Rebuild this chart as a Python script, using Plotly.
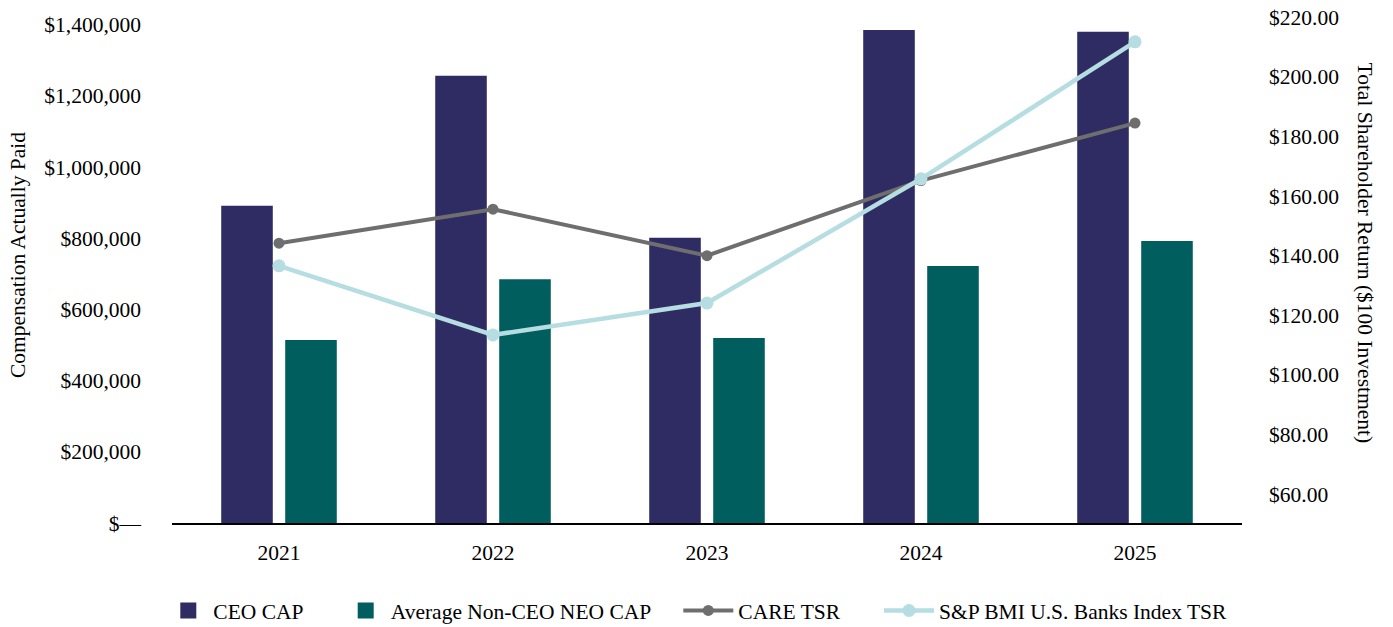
import plotly.graph_objects as go

years = ["2021", "2022", "2023", "2024", "2025"]
ceo_cap = [891000, 1256000, 801000, 1385000, 1380000]
neo_cap = [514000, 685000, 520000, 722000, 792000]
care_tsr = [144.2, 155.6, 140.0, 165.2, 184.5]
sp_tsr = [136.6, 113.4, 124.1, 165.8, 211.8]

left_ticks = [0, 200000, 400000, 600000, 800000, 1000000, 1200000, 1400000]
left_text = ["$\u2014"] + [f"${v:,.0f}" for v in left_ticks[1:]]
right_ticks = [60, 80, 100, 120, 140, 160, 180, 200, 220]
right_text = [f"${v:.2f}" for v in right_ticks]

FONT = "Liberation Serif, Times New Roman, serif"
FS = 21.5
C_CEO, C_NEO, C_CARE, C_SP = "#2e2c62", "#005f5e", "#6e6e6e", "#b6dde1"

fig = go.Figure()
fig.add_trace(go.Bar(x=years, y=ceo_cap, name="CEO CAP", marker=dict(color=C_CEO, line=dict(width=0)),
                     showlegend=False))
fig.add_trace(go.Bar(x=years, y=neo_cap, name="Average Non-CEO NEO CAP", marker=dict(color=C_NEO, line=dict(width=0)),
                     showlegend=False))
fig.add_trace(go.Scatter(x=years, y=care_tsr, name="CARE TSR", yaxis="y2", mode="lines+markers",
                         line=dict(color=C_CARE, width=4), marker=dict(size=11, color=C_CARE), legend="legend3"))
fig.add_trace(go.Scatter(x=years, y=sp_tsr, name="S&P BMI U.S. Banks Index TSR", yaxis="y2", mode="lines+markers",
                         line=dict(color=C_SP, width=4.5), marker=dict(size=13, color=C_SP), legend="legend4"))
# legend keys for the bar series (square swatches)
fig.add_trace(go.Scatter(x=[None], y=[None], name="CEO CAP", mode="markers",
                         marker=dict(symbol="square", size=21, color=C_CEO), legend="legend"))
fig.add_trace(go.Scatter(x=[None], y=[None], name="Average Non-CEO NEO CAP", mode="markers",
                         marker=dict(symbol="square", size=21, color=C_NEO), legend="legend2"))

plot_l, plot_w, plot_b, plot_h = 172, 1070, 523, 508
def px_x(p):
    return (p - plot_l) / plot_w
def px_y(p):
    return (plot_b - p) / plot_h

leg_y = px_y(610.5)
def leg(text_start, iw=30):
    return dict(orientation="h", x=px_x(text_start - iw - 10), xanchor="left", y=leg_y, yanchor="middle",
                font=dict(family=FONT, size=FS, color="black"), itemsizing="trace",
                itemwidth=iw, bgcolor="rgba(0,0,0,0)")

fig.update_layout(
    width=1393, height=627,
    margin=dict(l=172, r=151, t=15, b=104, autoexpand=False),
    paper_bgcolor="white", plot_bgcolor="white",
    font=dict(family=FONT, size=FS, color="black"),
    barmode="group", bargap=0.402, bargroupgap=0.194,
    showlegend=True,
    legend=leg(213.3, 40),
    legend2=leg(390.7, 40),
    legend3=leg(738.3, 50),
    legend4=leg(939, 50),
    xaxis=dict(showgrid=False, showline=True, linecolor="black", linewidth=2, ticks="",
               tickfont=dict(family=FONT, size=FS), ticklabelstandoff=9),
    yaxis=dict(range=[0, 1427000], tickvals=left_ticks, ticktext=left_text, showgrid=False,
               zeroline=False, showline=False, ticks="", ticklabelstandoff=30,
               tickfont=dict(family=FONT, size=FS)),
    yaxis2=dict(range=[50.27, 220.79], tickvals=right_ticks, ticktext=right_text, overlaying="y",
                side="right", showgrid=False, zeroline=False, showline=False, ticks="",
                ticklabelstandoff=26, tickfont=dict(family=FONT, size=FS)),
    annotations=[
        dict(text="Compensation Actually Paid", xref="paper", yref="paper", x=px_x(18), y=px_y(255),
             textangle=-90, showarrow=False, font=dict(family=FONT, size=FS), xanchor="center", yanchor="middle"),
        dict(text="Total Shareholder Return ($100 Investment)", xref="paper", yref="paper", x=px_x(1364), y=px_y(252.5),
             textangle=90, showarrow=False, font=dict(family=FONT, size=FS), xanchor="center", yanchor="middle"),
    ],
)

fig.write_html("out.html")
